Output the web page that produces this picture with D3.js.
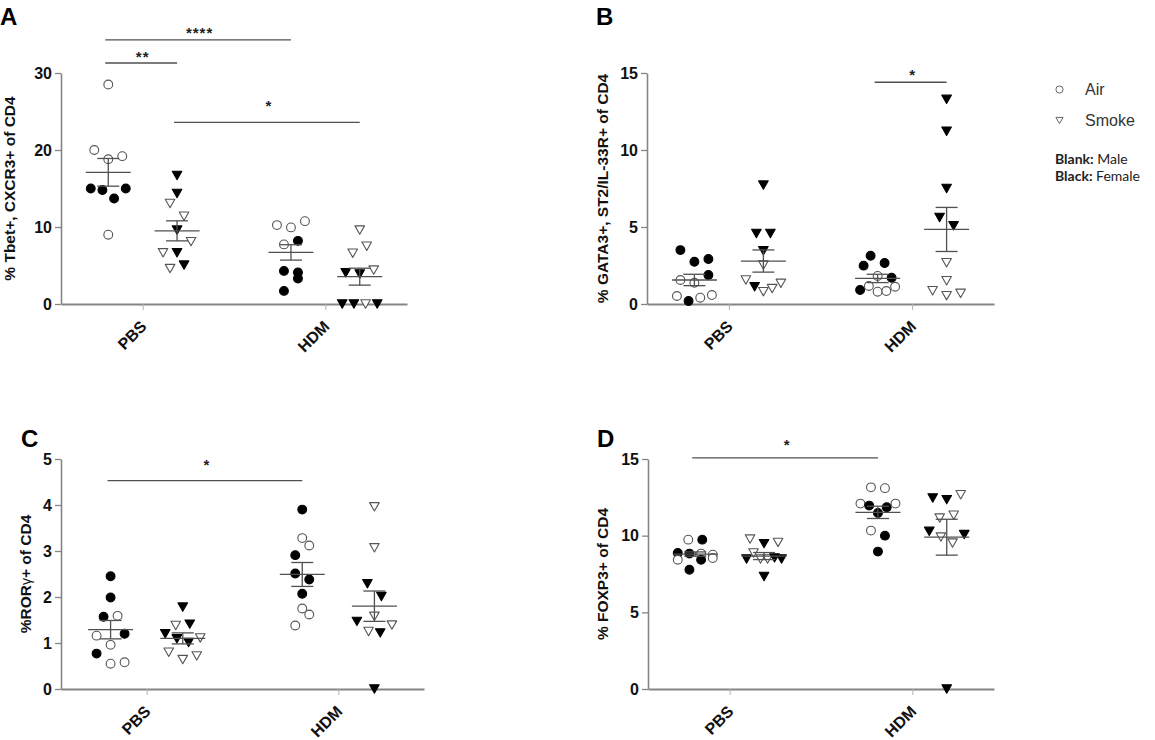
<!DOCTYPE html>
<html>
<head>
<meta charset="utf-8">
<script src="https://cdnjs.cloudflare.com/ajax/libs/d3/7.8.5/d3.min.js"></script>
<style>
  body { margin: 0; background: #fff; }
  svg { display: block; font-family: "Liberation Sans", Arial, sans-serif; }
</style>
</head>
<body>
<svg id="chart" width="1155" height="740"></svg>
<script>

// groups, in the order used by every value array below
var treatments = ['PBS', 'HDM'];
var exposures = ['Air', 'Smoke'];
// each panel: [Air PBS, Smoke PBS, Air HDM, Smoke HDM]
// sex strings: M = blank (male), F = black (female)

// A: % Tbet+, CXCR3+ of CD4
var tbetValues = [
  [28.5, 20, 18.8, 19.2, 15, 14.8, 13.7, 15, 9],
  [16.7, 14.35, 13.05, 11.4, 9.6, 6.65, 6.65, 8.1, 4.6, 5.05],
  [10.25, 9.95, 10.76, 7.74, 8.2, 4.3, 1.7, 3.3, 4.1],
  [9.6, 6.6, 7.5, 4.06, 3.9, 4.4, 0, 0, 0, 0]
];
var tbetSex = ['MMMMFFFFM', 'FFMMFMFMMF', 'MMMMFFFFF', 'MMMFFMFFMF'];
var tbetMeans = [17.1, 9.5, 6.7, 3.55];
var tbetSems = [1.8, 1.3, 1.0, 1.1];
var tbetTicks = [0, 10, 20, 30];
var tbetBars = [
  {from: 0, to: 2, level: 34.3, labelAt: 35.7, label: '****'},
  {from: 0, to: 1, level: 31.3, labelAt: 32.6, label: '**'},
  {from: 1, to: 3, level: 23.6, labelAt: 26.2, label: '*'}
];

// B: % GATA3+, ST2/IL-33R+ of CD4
var gataValues = [
  [3.5, 2.74, 2.92, 1.56, 1.38, 1.88, 0.52, 0.19, 0.41, 0.58],
  [7.72, 4.58, 4.58, 3.46, 2.53, 1.56, 1.12, 0.8, 1.0, 1.34],
  [2.49, 3.13, 2.66, 1.82, 1.7, 0.91, 1.17, 0.8, 0.84, 1.12],
  [13.29, 11.22, 7.5, 5.62, 5.08, 2.68, 1.51, 0.86, 0.54, 0.69]
];
var gataSex = ['FFFMMFMFMM', 'FFFFMMFMMM', 'FFFMFFMMMM', 'FFFFFMMMMM'];
var gataMeans = [1.56, 2.79, 1.66, 4.84];
var gataSems = [0.37, 0.72, 0.27, 1.43];
var gataTicks = [0, 5, 10, 15];
var gataBars = [
  {from: 2, to: 3, level: 14.4, labelAt: 15.13, label: '*'}
];

// C: % RORγ+ of CD4
var rorValues = [
  [2.45, 1.99, 1.57, 1.59, 1.16, 0.96, 1.2, 0.77, 0.55, 0.58],
  [1.78, 1.38, 1.41, 1.2, 1.09, 1.01, 1.11, 0.8, 0.64, 0.72],
  [3.9, 3.28, 2.91, 3.12, 2.51, 2.38, 2.07, 1.75, 1.38, 1.62],
  [3.96, 3.07, 2.29, 2.01, 1.58, 1.47, 1.25, 1.22, 1.39, 0]
];
var rorSex = ['FFFMMMFFMM', 'FMFFFFMMMM', 'FMFMFFFMMM', 'MMFFMFMFMF'];
var rorMeans = [1.29, 1.10, 2.49, 1.80];
var rorSems = [0.20, 0.12, 0.26, 0.33];
var rorTicks = [0, 1, 2, 3, 4, 5];
var rorBars = [
  {from: 0, to: 2, level: 4.53, labelAt: 4.95, label: '*'}
];

// D: % FOXP3+ of CD4
var foxValues = [
  [9.74, 9.74, 8.87, 8.83, 8.83, 8.76, 8.43, 7.78, 8.43, 8.54],
  [9.78, 9.48, 9.56, 8.48, 8.87, 8.48, 8.48, 8.55, 8.48, 7.34],
  [13.15, 13.1, 12.09, 11.96, 11.48, 11.85, 12.09, 10.33, 10.0, 8.96],
  [12.46, 12.35, 12.67, 11.15, 11.33, 10.28, 9.91, 9.52, 10.07, 0]
];
var foxSex = ['MFFFMMMFFM', 'MFMFMMMFFF', 'MMMFFFMMFF', 'FFMMMFMMFF'];
var foxMeans = [8.8, 8.67, 11.52, 9.9];
var foxSems = [0.14, 0.23, 0.4, 1.17];
var foxTicks = [0, 5, 10, 15];
var foxBars = [
  {from: 0, to: 2, level: 15.07, labelAt: 16.15, label: '*'}
];

var legendItems = ['Air', 'Smoke'];

var svg = d3.select('#chart');
var axisColor = '#858585';
var lineColor = '#505050';
var rowGap = 13.5; // px: points closer than this share a row
// down-pointing triangle for Smoke
var trianglePath = 'M-4.8,-4.2L4.8,-4.2L0,4.2Z';

var panels = [
  {letter: 'A', letterAt: [0, 25], title: '% Tbet+, CXCR3+ of CD4', titleX: 14.5,
   values: tbetValues, sex: tbetSex, means: tbetMeans, sems: tbetSems, ticks: tbetTicks, bars: tbetBars,
   box: {x0: 61, x1: 407, y0: 73, y1: 304}},
  {letter: 'B', letterAt: [596, 25], title: '% GATA3+, ST2/IL-33R+ of CD4', titleX: 608,
   values: gataValues, sex: gataSex, means: gataMeans, sems: gataSems, ticks: gataTicks, bars: gataBars,
   box: {x0: 647, x1: 994, y0: 73, y1: 304}},
  {letter: 'C', letterAt: [21, 447], title: null, titleX: 31,
   values: rorValues, sex: rorSex, means: rorMeans, sems: rorSems, ticks: rorTicks, bars: rorBars,
   box: {x0: 61, x1: 424, y0: 459, y1: 689}},
  {letter: 'D', letterAt: [597, 447], title: '% FOXP3+ of CD4', titleX: 608,
   values: foxValues, sex: foxSex, means: foxMeans, sems: foxSems, ticks: foxTicks, bars: foxBars,
   box: {x0: 648, x1: 994, y0: 459, y1: 689}}
];

panels.forEach(drawPanel);
drawLegend();

// Prism-like scatter: points at nearly the same height are spread in a row
function layoutGroup(values, sex, cx, y) {
  var pts = values.map(function (v, i) {
    return {v: v, i: i, female: sex.charAt(i) === 'F', py: y(v)};
  });
  var sorted = pts.slice().sort(function (a, b) { return b.py - a.py || a.i - b.i; });
  var rows = [];
  sorted.forEach(function (p) {
    var row = rows[rows.length - 1];
    if (row && row[0].py - p.py < rowGap) row.push(p);
    else rows.push([p]);
  });
  rows.forEach(function (row) {
    row.sort(function (a, b) { return a.i - b.i; });
    var step = row.length > 1 ? Math.min(14, 35 / (row.length - 1)) : 0;
    row.forEach(function (p, k) {
      p.px = cx + (k - (row.length - 1) / 2) * step;
    });
  });
  return pts;
}

function drawPanel(p) {
  var b = p.box;
  var L = b.x1 - b.x0;
  var g = svg.append('g');

  var x = d3.scalePoint().domain(treatments).range([b.x0, b.x1]).padding(0.447);
  var sub = d3.scalePoint().domain(exposures).range([-0.0994 * L, 0.0994 * L]);
  var y = d3.scaleLinear().domain([0, d3.max(p.ticks)]).range([b.y1, b.y0]);

  function groupX(k) {
    return x(treatments[Math.floor(k / 2)]) + sub(exposures[k % 2]);
  }

  // axes
  var yAxis = g.append('g')
    .attr('transform', 'translate(' + b.x0 + ',0)')
    .call(d3.axisLeft(y).tickValues(p.ticks).tickFormat(d3.format('d'))
      .tickSize(6).tickSizeOuter(0).tickPadding(3));
  yAxis.select('.domain').attr('stroke', axisColor).attr('stroke-width', 1.6);
  yAxis.selectAll('.tick line').attr('stroke', axisColor).attr('stroke-width', 1.3);
  yAxis.selectAll('.tick text')
    .attr('fill', '#111').style('font-size', '16px').style('font-weight', 'bold')
    .style('font-family', '"Liberation Sans", Arial, sans-serif');

  var xAxis = g.append('g')
    .attr('transform', 'translate(0,' + b.y1 + ')')
    .call(d3.axisBottom(x).tickSize(6).tickSizeOuter(0));
  xAxis.select('.domain').attr('stroke', axisColor).attr('stroke-width', 2);
  xAxis.selectAll('.tick line').attr('stroke', '#b0b0b0').attr('stroke-width', 1);
  xAxis.selectAll('.tick text')
    .attr('x', 0).attr('y', 0).attr('dy', 0)
    .attr('transform', 'translate(4.5,23.5) rotate(-45)')
    .style('text-anchor', 'end')
    .attr('fill', '#111').style('font-size', '16px').style('font-weight', 'bold')
    .style('font-family', '"Liberation Sans", Arial, sans-serif');

  // axis title
  var cy = (b.y0 + b.y1) / 2;
  var title = g.append('text')
    .attr('transform', 'translate(' + p.titleX + ',' + cy + ') rotate(-90)')
    .attr('text-anchor', 'middle')
    .style('font-size', '15.5px').style('font-weight', 'bold').attr('fill', '#111');
  if (p.title) {
    title.text(p.title);
  } else {
    title.append('tspan').text('%ROR');
    title.append('tspan').text('γ').style('font-weight', 'normal').style('font-size', '14px');
    title.append('tspan').text('+ of CD4');
  }

  // panel letter
  g.append('text')
    .attr('x', p.letterAt[0]).attr('y', p.letterAt[1])
    .style('font-size', '24px').style('font-weight', 'bold').attr('fill', '#000')
    .text(p.letter);

  // points
  p.values.forEach(function (vals, k) {
    var shape = exposures[k % 2];
    var pts = layoutGroup(vals, p.sex[k], groupX(k), y);
    var sel = g.append('g').selectAll('.pt').data(pts).enter();
    if (shape === 'Air') {
      sel.append('circle')
        .attr('cx', function (d) { return d.px; })
        .attr('cy', function (d) { return d.py; })
        .attr('r', 4.4)
        .attr('fill', function (d) { return d.female ? '#000' : '#fff'; })
        .attr('stroke', function (d) { return d.female ? '#000' : '#555'; })
        .attr('stroke-width', 1.1);
    } else {
      sel.append('path')
        .attr('d', trianglePath)
        .attr('transform', function (d) { return 'translate(' + d.px + ',' + d.py + ')'; })
        .attr('fill', function (d) { return d.female ? '#000' : '#fff'; })
        .attr('stroke', function (d) { return d.female ? '#000' : '#555'; })
        .attr('stroke-width', 1.1)
        .attr('stroke-linejoin', 'round');
    }
  });

  // mean and SEM
  p.means.forEach(function (m, k) {
    var cx = groupX(k);
    var s = p.sems[k];
    var sg = g.append('g').attr('stroke', lineColor).attr('stroke-width', 1.3).attr('fill', 'none');
    sg.append('line').attr('x1', cx - 22.5).attr('x2', cx + 22.5).attr('y1', y(m)).attr('y2', y(m));
    sg.append('line').attr('x1', cx).attr('x2', cx).attr('y1', y(m - s)).attr('y2', y(m + s));
    sg.append('line').attr('x1', cx - 11).attr('x2', cx + 11).attr('y1', y(m + s)).attr('y2', y(m + s));
    sg.append('line').attr('x1', cx - 11).attr('x2', cx + 11).attr('y1', y(m - s)).attr('y2', y(m - s));
  });

  // significance bars
  p.bars.forEach(function (bar) {
    var xa = groupX(bar.from), xb = groupX(bar.to);
    g.append('line')
      .attr('x1', xa - 3).attr('x2', xb).attr('y1', y(bar.level)).attr('y2', y(bar.level))
      .attr('stroke', lineColor).attr('stroke-width', 1.3);
    g.append('text')
      .attr('x', (xa + xb) / 2).attr('y', y(bar.labelAt))
      .attr('dy', '0.57em')
      .attr('text-anchor', 'middle')
      .style('font-size', '15px').style('font-weight', 'bold')
      .style('letter-spacing', bar.label.length > 1 ? '1px' : '0')
      .attr('fill', '#222')
      .text(bar.label);
  });
}

function drawLegend() {
  var lg = svg.append('g');
  var rowsY = [89.5, 120.5];
  legendItems.forEach(function (name, i) {
    if (name === 'Air') {
      lg.append('circle').attr('cx', 1059.5).attr('cy', rowsY[i]).attr('r', 3.6)
        .attr('fill', '#fff').attr('stroke', '#666').attr('stroke-width', 1);
    } else {
      lg.append('path').attr('d', 'M-3.6,-3.1L3.6,-3.1L0,3.1Z')
        .attr('transform', 'translate(1059.5,' + rowsY[i] + ')')
        .attr('fill', '#fff').attr('stroke', '#666').attr('stroke-width', 1);
    }
    lg.append('text').attr('x', 1085).attr('y', rowsY[i] + 5.8)
      .style('font-size', '16px').attr('fill', '#333').text(name);
  });
  var notes = [['Blank:', ' Male'], ['Black:', ' Female']];
  notes.forEach(function (n, i) {
    var t = lg.append('text').attr('x', 1055).attr('y', 163.5 + i * 17)
      .style('font-family', 'Lato, "Open Sans", sans-serif').style('font-size', '14px').attr('fill', '#222');
    t.append('tspan').style('font-weight', 'bold').text(n[0]);
    t.append('tspan').text(n[1]);
  });
}
</script>
</body>
</html>
